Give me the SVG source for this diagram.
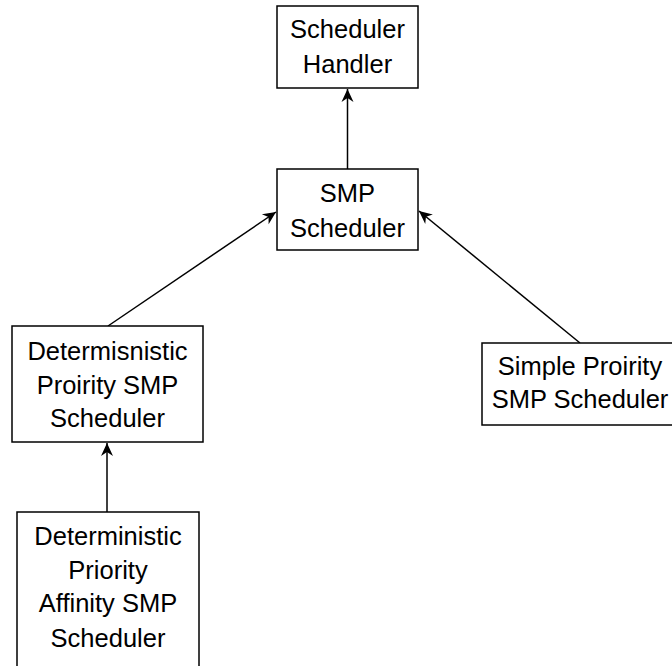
<svg xmlns="http://www.w3.org/2000/svg" width="672" height="666" viewBox="0 0 672 666">
  <style>
    .box { fill: #ffffff; stroke: #000000; stroke-width: 1.5; }
    .lbl { font-family: "Liberation Sans", Arial, sans-serif; font-size: 25.5px; fill: #000000; text-anchor: middle; }
    .edge { stroke: #000000; stroke-width: 1.5; fill: none; marker-end: url(#arrow); }
  </style>
  <defs>
    <marker id="arrow" markerUnits="userSpaceOnUse" markerWidth="16" markerHeight="14" viewBox="-14 -7 16 14" refX="0" refY="0" orient="auto">
      <path d="M0,0 L-13,-6 L-9,0 L-13,6 Z" fill="#000000"/>
    </marker>
  </defs>
  <rect width="672" height="666" fill="#ffffff"/>

  <g id="connectors">
    <line class="edge" x1="347.5" y1="169" x2="347.5" y2="89"/>
    <line class="edge" x1="108" y1="326" x2="276" y2="212"/>
    <line class="edge" x1="580" y1="343" x2="419" y2="211"/>
    <line class="edge" x1="107" y1="512" x2="107" y2="443"/>
  </g>

  <g id="scheduler-handler">
    <rect class="box" x="277" y="6" width="141" height="82"/>
    <text class="lbl" x="347.5" y="38">Scheduler</text>
    <text class="lbl" x="347.5" y="73">Handler</text>
  </g>

  <g id="smp-scheduler">
    <rect class="box" x="277" y="169" width="141" height="81"/>
    <text class="lbl" x="347.5" y="202">SMP</text>
    <text class="lbl" x="347.5" y="237">Scheduler</text>
  </g>

  <g id="deterministic-priority-smp-scheduler">
    <rect class="box" x="12" y="326" width="191" height="116"/>
    <text class="lbl" x="107.5" y="360">Determisnistic</text>
    <text class="lbl" x="107.5" y="394">Proirity SMP</text>
    <text class="lbl" x="107.5" y="427">Scheduler</text>
  </g>

  <g id="simple-priority-smp-scheduler">
    <rect class="box" x="482" y="343" width="197" height="82"/>
    <text class="lbl" x="580" y="375">Simple Proirity</text>
    <text class="lbl" x="580" y="408">SMP Scheduler</text>
  </g>

  <g id="deterministic-priority-affinity-smp-scheduler">
    <rect class="box" x="17" y="512" width="182" height="170"/>
    <text class="lbl" x="108" y="545">Deterministic</text>
    <text class="lbl" x="108" y="579">Priority</text>
    <text class="lbl" x="108" y="612">Affinity SMP</text>
    <text class="lbl" x="108" y="647">Scheduler</text>
  </g>
</svg>
